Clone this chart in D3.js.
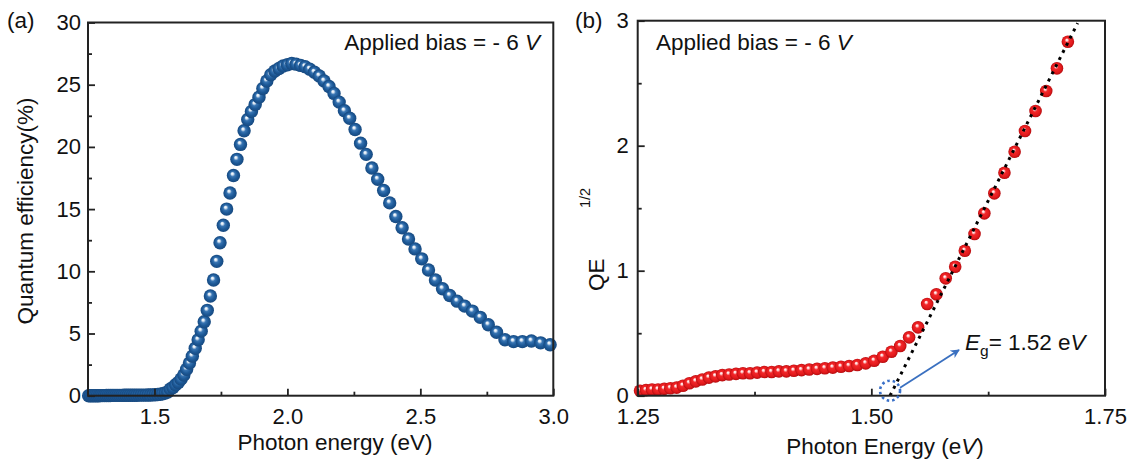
<!DOCTYPE html>
<html>
<head>
<meta charset="utf-8">
<script src="https://cdn.jsdelivr.net/npm/d3@7"></script>
<style>
  body { margin: 0; background: #fff; }
  svg { display: block; }
  text { font-family: "Liberation Sans", Arial, Helvetica, sans-serif; fill: #111; }
</style>
</head>
<body>
<svg id="chart" width="1133" height="464"></svg>
<script>
// ---- Panel (a): quantum efficiency spectrum at -6 V ----
const energyA = [
  1.2525,1.2589,1.2653,1.2718,1.2784,1.2850,1.2917,1.2984,1.3053,1.3122,
  1.3191,1.3262,1.3333,1.3405,1.3478,1.3552,1.3626,1.3702,1.3778,1.3855,
  1.3933,1.4011,1.4091,1.4171,1.4253,1.4335,1.4419,1.4503,1.4588,1.4675,
  1.4762,1.4850,1.4940,1.5030,1.5122,1.5215,1.5309,1.5404,1.5500,1.5597,
  1.5696,1.5796,1.5897,1.6000,1.6104,1.6209,1.6316,1.6424,1.6533,1.6644,
  1.6757,1.6871,1.6986,1.7103,1.7222,1.7343,1.7465,1.7589,1.7714,1.7842,
  1.7971,1.8102,1.8235,1.8370,1.8507,1.8647,1.8788,1.8931,1.9077,1.9225,
  1.9375,1.9528,1.9683,1.9840,2.0000,2.0163,2.0328,2.0496,2.0667,2.0840,
  2.1017,2.1197,2.1379,2.1565,2.1754,2.1947,2.2143,2.2342,2.2545,2.2752,
  2.2963,2.3178,2.3396,2.3619,2.3846,2.4078,2.4314,2.4554,2.4800,2.5051,
  2.5306,2.5567,2.5833,2.6105,2.6383,2.6667,2.6957,2.7253,2.7556,2.7865,
  2.8182,2.8506,2.8837,2.9176,2.9524,2.9880
];
const qeA = [
  0.00,0.00,0.00,0.00,0.00,0.00,0.00,0.01,0.01,0.01,
  0.02,0.02,0.02,0.03,0.03,0.03,0.03,0.03,0.03,0.04,
  0.04,0.04,0.04,0.04,0.04,0.04,0.05,0.05,0.05,0.05,
  0.06,0.06,0.07,0.08,0.10,0.12,0.16,0.22,0.30,0.54,
  0.66,0.88,1.07,1.35,1.67,2.13,2.62,3.18,3.81,4.49,
  5.19,5.94,6.86,8.02,9.30,10.8,12.3,13.7,15.0,16.3,
  17.7,19.0,20.2,21.3,22.2,22.85,23.4,24.0,24.7,25.3,
  25.8,26.1,26.3,26.5,26.6,26.7,26.65,26.55,26.45,26.25,
  26.0,25.7,25.3,24.85,24.3,23.6,22.9,22.3,21.4,20.3,
  19.4,18.3,17.4,16.5,15.5,14.4,13.5,12.6,11.8,11.0,
  10.1,9.3,8.6,8.05,7.6,7.2,6.8,6.3,5.7,5.1,
  4.5,4.35,4.35,4.4,4.25,4.1
];
const xTicksA = [1.5, 2.0, 2.5, 3.0];
const xMinorA = [1.75, 2.25, 2.75];
const yTicksA = [0, 5, 10, 15, 20, 25, 30];
const yMinorA = [2.5, 7.5, 12.5, 17.5, 22.5, 27.5];

// ---- Panel (b): square root of QE near the absorption edge ----
const energyB = [
  1.2525,1.2589,1.2653,1.2718,1.2784,1.2850,1.2917,1.2984,1.3053,1.3122,
  1.3191,1.3262,1.3333,1.3405,1.3478,1.3552,1.3626,1.3702,1.3778,1.3855,
  1.3933,1.4011,1.4091,1.4171,1.4253,1.4335,1.4419,1.4503,1.4588,1.4675,
  1.4762,1.4850,1.4940,1.5030,1.5122,1.5215,1.5309,1.5404,1.5500,1.5597,
  1.5696,1.5796,1.5897,1.6000,1.6104,1.6209,1.6316,1.6424,1.6533,1.6644,
  1.6757,1.6871,1.6986,1.7103
];
const sqrtQeB = [
  0.040,0.045,0.050,0.050,0.055,0.060,0.065,0.080,0.100,0.115,
  0.130,0.145,0.155,0.165,0.170,0.175,0.180,0.180,0.185,0.190,
  0.190,0.195,0.195,0.200,0.205,0.210,0.215,0.220,0.225,0.232,
  0.238,0.246,0.259,0.280,0.312,0.352,0.398,0.467,0.547,0.734,
  0.811,0.939,1.032,1.160,1.294,1.459,1.619,1.784,1.952,2.118,
  2.278,2.438,2.619,2.832
];
const xTicksB = [1.25, 1.50, 1.75];
const xMinorB = [1.375, 1.625];
const yTicksB = [0, 1, 2, 3];
const yMinorB = [0.5, 1.5, 2.5];

// linear extrapolation of the edge and the band gap it gives
const fitEnergy = [1.52, 1.7207];
const fitValue = [0, 2.98];
const bandGap = 1.52;

const svg = d3.select("#chart");
const defs = svg.append("defs");

function ballGradient(id, stops) {
  const g = defs.append("radialGradient").attr("id", id)
    .attr("cx", "50%").attr("cy", "50%").attr("r", "50%")
    .attr("fx", "40%").attr("fy", "34%");
  stops.forEach(([o, c]) => g.append("stop").attr("offset", o).attr("stop-color", c));
}
ballGradient("ballBlue", [["0%", "#ffffff"], ["16%", "#dce8f4"], ["38%", "#3774b2"], ["70%", "#1c5896"], ["100%", "#17497f"]]);
ballGradient("ballRed", [["0%", "#ffffff"], ["14%", "#ffd6d6"], ["36%", "#f2272a"], ["75%", "#e31a1c"], ["100%", "#b50d10"]]);

defs.append("marker").attr("id", "arrowHead")
  .attr("viewBox", "0 0 10 10").attr("refX", 9).attr("refY", 5)
  .attr("markerWidth", 9).attr("markerHeight", 9).attr("markerUnits", "userSpaceOnUse")
  .attr("orient", "auto")
  .append("path").attr("d", "M0,0 L10,5 L0,10 L3,5 Z").attr("fill", "#3a70c0");

const TICK_FONT = 22;
const TEXT_FONT = 22.5;

function drawAxes(g, x, y, opt) {
  const [x0, x1] = x.range();
  const [y0, y1] = y.range();
  g.append("g").attr("transform", `translate(0,${y0})`)
    .call(d3.axisBottom(x).tickValues(opt.xTicks).tickFormat(opt.xFmt)
      .tickSize(-7).tickSizeOuter(0).tickPadding(13));
  g.append("g").attr("transform", `translate(0,${y0})`)
    .call(d3.axisBottom(x).tickValues(opt.xMinor).tickFormat("").tickSize(-4).tickSizeOuter(0));
  g.append("g").attr("transform", `translate(${x0},0)`)
    .call(d3.axisLeft(y).tickValues(opt.yTicks).tickFormat(opt.yFmt)
      .tickSize(-7).tickSizeOuter(0).tickPadding(opt.yPad));
  g.append("g").attr("transform", `translate(${x0},0)`)
    .call(d3.axisLeft(y).tickValues(opt.yMinor).tickFormat("").tickSize(-4).tickSizeOuter(0));
  g.selectAll(".domain").remove();
  g.selectAll(".tick line").attr("stroke", "#222").attr("stroke-width", 1.8);
  g.selectAll(".tick text").attr("font-size", TICK_FONT).attr("fill", "#111")
    .style("font-family", "'Liberation Sans', Arial, sans-serif");
  g.append("rect").attr("x", x0).attr("y", y1).attr("width", x1 - x0).attr("height", y0 - y1)
    .attr("fill", "none").attr("stroke", "#222").attr("stroke-width", 2);
}

// ---------- Panel (a) ----------
const gA = svg.append("g");
const xA = d3.scaleLinear().domain([1.25, 3.0]).range([88, 553.3]);
const yA = d3.scaleLinear().domain([0, 30]).range([395.7, 22.5]);

gA.append("g").selectAll("circle").data(energyA).join("circle")
  .attr("cx", (d) => xA(d)).attr("cy", (d, i) => yA(qeA[i]))
  .attr("r", 6.7).attr("fill", "url(#ballBlue)");

drawAxes(gA, xA, yA, {
  xTicks: xTicksA, xMinor: xMinorA, xFmt: d3.format(".1f"),
  yTicks: yTicksA, yMinor: yMinorA, yFmt: d3.format("d"), yPad: 7
});

gA.append("text").attr("x", 7).attr("y", 28).attr("font-size", 22.5).text("(a)");
const biasA = gA.append("text").attr("x", 540).attr("y", 50).attr("font-size", TEXT_FONT)
  .attr("text-anchor", "end");
biasA.append("tspan").text("Applied bias = - 6 ");
biasA.append("tspan").attr("font-style", "italic").text("V");
gA.append("text").attr("x", 335).attr("y", 450).attr("font-size", TEXT_FONT)
  .attr("text-anchor", "middle").text("Photon energy (eV)");
gA.append("text").attr("transform", "translate(33,211) rotate(-90)")
  .attr("font-size", TEXT_FONT).attr("text-anchor", "middle").text("Quantum efficiency(%)");

// ---------- Panel (b) ----------
const gB = svg.append("g");
const xB = d3.scaleLinear().domain([1.25, 1.75]).range([637.7, 1105]);
const yB = d3.scaleLinear().domain([0, 3]).range([395.7, 20.7]);

gB.append("g").selectAll("circle").data(energyB).join("circle")
  .attr("cx", (d) => xB(d)).attr("cy", (d, i) => yB(sqrtQeB[i]))
  .attr("r", 6.3).attr("fill", "url(#ballRed)");

gB.append("line")
  .attr("x1", xB(fitEnergy[0])).attr("y1", yB(fitValue[0]))
  .attr("x2", xB(fitEnergy[1])).attr("y2", yB(fitValue[1]))
  .attr("stroke", "#000").attr("stroke-width", 3).attr("stroke-dasharray", "3,5");

drawAxes(gB, xB, yB, {
  xTicks: xTicksB, xMinor: xMinorB, xFmt: d3.format(".2f"),
  yTicks: yTicksB, yMinor: yMinorB, yFmt: d3.format("d"), yPad: 9
});

// band-gap marker
const gx = xB(bandGap), gy = yB(0) - 5;
gB.append("circle").attr("cx", gx).attr("cy", gy).attr("r", 10)
  .attr("fill", "none").attr("stroke", "#3a70c8").attr("stroke-width", 2.6)
  .attr("stroke-dasharray", "2.5,3");
gB.append("line").attr("x1", gx + 10).attr("y1", gy - 3).attr("x2", 959).attr("y2", 350)
  .attr("stroke", "#3a70c0").attr("stroke-width", 1.8).attr("marker-end", "url(#arrowHead)");
const eg = gB.append("text").attr("x", 965).attr("y", 350).attr("font-size", TEXT_FONT);
eg.append("tspan").attr("font-style", "italic").text("E");
eg.append("tspan").attr("font-size", 15.5).attr("dy", 6).text("g");
eg.append("tspan").attr("dy", -6).text("= " + d3.format(".2f")(bandGap) + " e");
eg.append("tspan").attr("font-style", "italic").text("V");

gB.append("text").attr("x", 575).attr("y", 28).attr("font-size", 22.5).text("(b)");
const biasB = gB.append("text").attr("x", 656).attr("y", 50).attr("font-size", TEXT_FONT);
biasB.append("tspan").text("Applied bias = - 6 ");
biasB.append("tspan").attr("font-style", "italic").text("V");
const xlabB = gB.append("text").attr("x", 885).attr("y", 454).attr("font-size", TEXT_FONT)
  .attr("text-anchor", "middle");
xlabB.append("tspan").text("Photon Energy (e");
xlabB.append("tspan").attr("font-style", "italic").text("V");
xlabB.append("tspan").text(")");
gB.append("text").attr("transform", "translate(604,291) rotate(-90)")
  .attr("font-size", TEXT_FONT).text("QE");
gB.append("text").attr("transform", "translate(590,208) rotate(-90)")
  .attr("font-size", 14.5).text("1/2");
</script>
</body>
</html>
